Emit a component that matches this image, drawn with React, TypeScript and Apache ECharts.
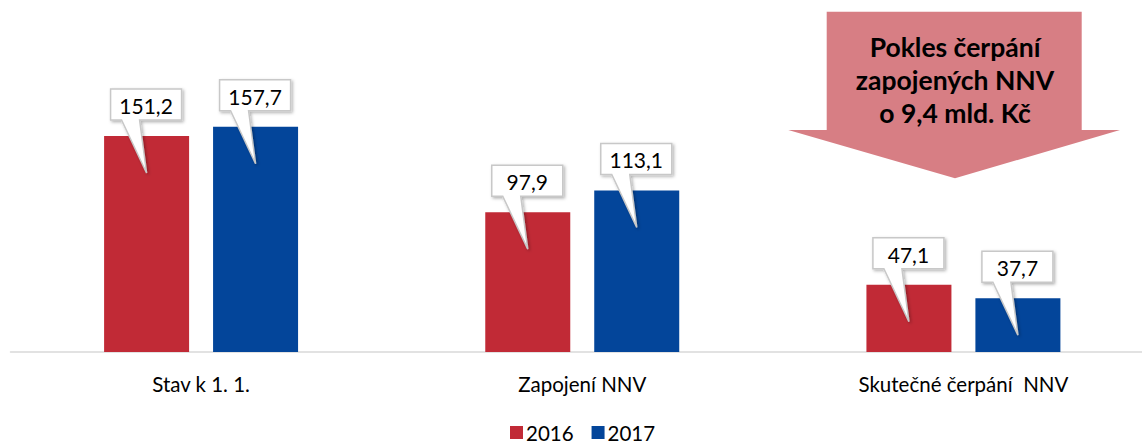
import React, { useEffect, useRef } from "react";
import * as echarts from "echarts";

const categories = ["Stav k 1. 1.", "Zapojení NNV", "Skutečné čerpání  NNV"];
const years = ["2016", "2017"];
const values2016 = [151.2, 97.9, 47.1];
const values2017 = [157.7, 113.1, 37.7];
const colors = ["#c12a36", "#03459a"];
const arrowText = "Pokles čerpání\nzapojených NNV\no 9,4 mld. Kč";

const FONT = "Lato, 'Open Sans', sans-serif";

function calloutSeries(name: string, vals: number[], offset: number) {
  return {
    type: "custom",
    name: name + "-callout",
    coordinateSystem: "cartesian2d",
    z: 5,
    silent: true,
    data: vals.map((v, i) => [i, v]),
    renderItem: (params: any, api: any) => {
      const p = api.coord([api.value(0), api.value(1)]);
      const cx = p[0] + offset;
      const ty = p[1];
      const l = cx - 36, r = cx + 35, t = ty - 47, b = ty - 16;
      const pts = [
        [l, t], [r, t], [r, b], [cx - 7, b], [cx, ty + 37], [cx - 25, b], [l, b]
      ];
      const label = String(api.value(1)).replace(".", ",");
      return {
        type: "group",
        children: [
          {
            type: "polygon",
            shape: { points: pts },
            style: {
              fill: "#ffffff",
              stroke: "#c8c8c8",
              lineWidth: 1.5,
              shadowBlur: 3,
              shadowOffsetX: 1.5,
              shadowOffsetY: 1.5,
              shadowColor: "rgba(0,0,0,0.3)"
            }
          },
          {
            type: "text",
            style: {
              text: label,
              x: (l + r) / 2,
              y: (t + b) / 2 + 1,
              align: "center",
              verticalAlign: "middle",
              fontSize: 21,
              fontFamily: FONT,
              fill: "#000"
            }
          }
        ]
      };
    }
  };
}

export default function App() {
  const ref = useRef<HTMLDivElement>(null);
  useEffect(() => {
    if (!ref.current) return;
    const chart = echarts.init(ref.current, undefined, { renderer: "svg" });
    chart.setOption({
      animation: false,
      grid: { left: 10.5, right: 0, top: 66.3, height: 285.7, containLabel: false },
      legend: {
        data: years,
        left: 510,
        top: 422,
        padding: 0,
        itemWidth: 13,
        itemHeight: 13,
        itemGap: 18,
        icon: "rect",
        textStyle: { fontSize: 20.5, fontFamily: FONT, color: "#000", padding: [0, 0, 0, -2] }
      },
      xAxis: {
        type: "category",
        data: categories,
        axisLine: { lineStyle: { color: "#d9d9d9", width: 1.5 } },
        axisTick: { show: false },
        axisLabel: { fontSize: 20.5, fontFamily: FONT, color: "#000", margin: 21 }
      },
      yAxis: {
        type: "value",
        min: 0,
        max: 200,
        show: false,
        splitLine: { show: false }
      },
      series: [
        {
          type: "bar",
          name: years[0],
          data: values2016,
          barWidth: 85,
          barGap: "28.2%",
          itemStyle: { color: colors[0] }
        },
        {
          type: "bar",
          name: years[1],
          data: values2017,
          barWidth: 85,
          barGap: "28.2%",
          itemStyle: { color: colors[1] }
        },
        calloutSeries(years[0], values2016, -54.5),
        calloutSeries(years[1], values2017, 54.5)
      ],
      graphic: [
        {
          type: "polygon",
          z: 10,
          shape: {
            points: [
              [826.7, 11.7], [1081.7, 11.7], [1081.7, 130], [1120, 130],
              [955, 178.3], [788.3, 130], [826.7, 130]
            ]
          },
          style: { fill: "#d77e84" }
        },
        {
          type: "text",
          z: 11,
          x: 955,
          y: 80,
          style: {
            text: arrowText,
            align: "center",
            verticalAlign: "middle",
            fontSize: 26.5,
            fontWeight: "bold",
            lineHeight: 33,
            fontFamily: FONT,
            fill: "#000"
          }
        }
      ]
    });
    return () => chart.dispose();
  }, []);
  return (
    <div style={{ position: "absolute", left: 0, top: 0, width: 1142, height: 445, overflow: "hidden" }}>
      <div ref={ref} style={{ width: 1154, height: 445 }} />
    </div>
  );
}
